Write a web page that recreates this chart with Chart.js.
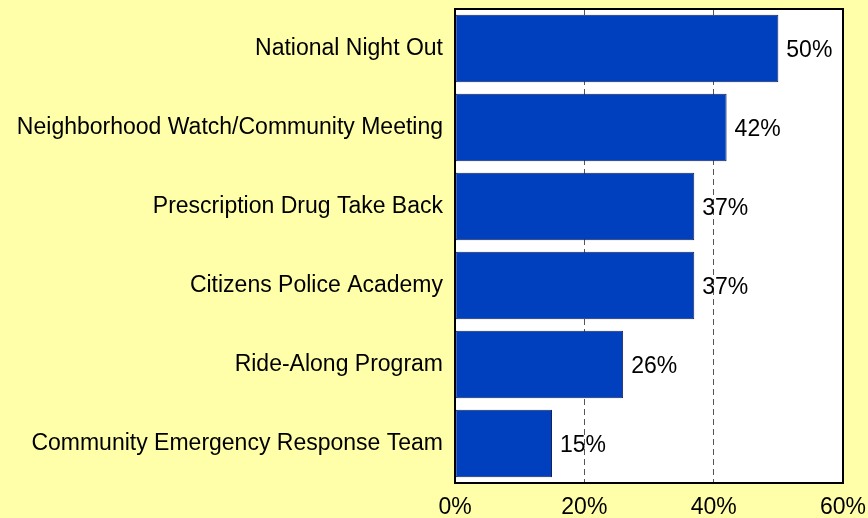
<!DOCTYPE html>
<html>
<head>
<meta charset="utf-8">
<script src="https://cdn.jsdelivr.net/npm/chart.js@4/dist/chart.umd.min.js"></script>
<style>
  html, body { margin: 0; padding: 0; background: #ffffaa; }
  #wrap { width: 868px; height: 518px; }
</style>
</head>
<body>
<div id="wrap"><canvas id="chart" width="868" height="518"></canvas></div>
<script>
"use strict";
var programs = [
    'National Night Out',
    'Neighborhood Watch/Community Meeting',
    'Prescription Drug Take Back',
    'Citizens Police Academy',
    'Ride-Along Program',
    'Community Emergency Response Team'
];
var shares = [50, 42, 37, 37, 26, 15];
var xTicks = [0, 20, 40, 60];

var FONT = '"Liberation Sans", Arial, sans-serif';
var SIZE = 23;

// keep the scales from reserving extra room for overhanging labels
function noPad(s) {
    s.paddingTop = 0;
    s.paddingBottom = 0;
    s.paddingLeft = 0;
    s.paddingRight = 0;
}

// white plot area with a heavy black frame
var frame = {
    id: 'frame',
    beforeDraw: function (chart) {
        var a = chart.chartArea, c = chart.ctx;
        c.save();
        c.fillStyle = '#ffffff';
        c.fillRect(a.left, a.top, a.right - a.left, a.bottom - a.top);
        c.restore();
    },
    afterDraw: function (chart) {
        var a = chart.chartArea, c = chart.ctx;
        c.save();
        c.strokeStyle = '#000000';
        c.lineWidth = 2;
        c.strokeRect(a.left, a.top, a.right - a.left, a.bottom - a.top);
        c.restore();
    }
};

// percentage labels to the right of each bar
var valueLabels = {
    id: 'valueLabels',
    afterDatasetsDraw: function (chart) {
        var c = chart.ctx;
        var meta = chart.getDatasetMeta(0);
        c.save();
        c.font = SIZE + 'px ' + FONT;
        c.fillStyle = '#000000';
        c.textAlign = 'left';
        c.textBaseline = 'middle';
        meta.data.forEach(function (bar, i) {
            c.fillText(shares[i] + '%', bar.x + 8, bar.y + 2);
        });
        c.restore();
    }
};

new Chart(document.getElementById('chart'), {
    type: 'bar',
    data: {
        labels: programs,
        datasets: [{
            data: shares,
            backgroundColor: '#0040bf',
            borderColor: '#13235a',
            borderWidth: 1,
            borderSkipped: false,
            barPercentage: 0.857,
            categoryPercentage: 1
        }]
    },
    options: {
        indexAxis: 'y',
        responsive: false,
        animation: false,
        layout: { padding: { top: 9, right: 25, bottom: 0, left: 0 } },
        plugins: { legend: { display: false }, tooltip: { enabled: false } },
        scales: {
            x: {
                min: 0, max: 60,
                afterBuildTicks: function (s) { s.ticks = xTicks.map(function (v) { return { value: v }; }); },
                afterFit: function (s) { s.height = 35; noPad(s); },
                grid: {
                    drawTicks: false,
                    color: function (ctx) { return (ctx.tick && (ctx.tick.value === 20 || ctx.tick.value === 40)) ? '#555555' : 'rgba(0,0,0,0)'; },
                    lineWidth: 1
                },
                border: { display: false, dash: [6, 4] },
                ticks: {
                    padding: 11,
                    maxRotation: 0,
                    color: '#000000',
                    font: { family: FONT, size: SIZE },
                    callback: function (v) { return v + '%'; }
                }
            },
            y: {
                afterFit: function (s) { s.width = 455; noPad(s); },
                border: { display: false },
                grid: { display: false, drawTicks: false },
                ticks: {
                    padding: 12,
                    color: '#000000',
                    font: { family: FONT, size: SIZE }
                }
            }
        }
    },
    plugins: [frame, valueLabels]
});
</script>
</body>
</html>
